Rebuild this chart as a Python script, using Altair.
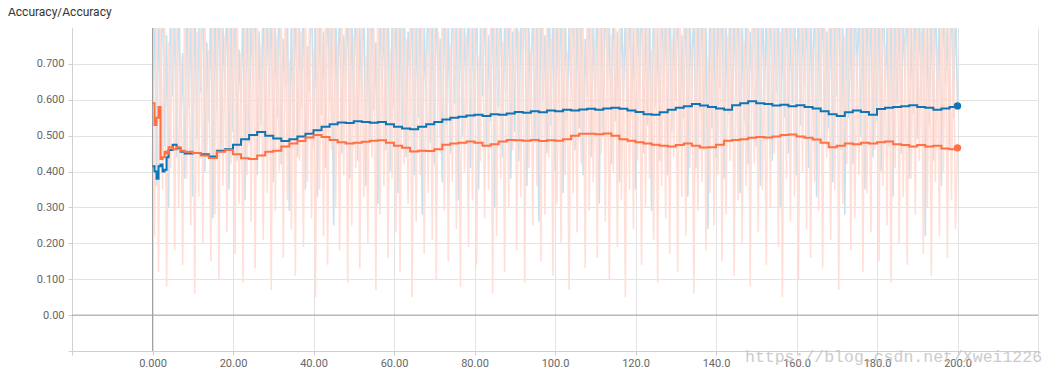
import altair as alt
import pandas as pd

# ---- data ----
raw_x = [i * 0.5 for i in range(0, 401)]

blue_raw = [
    0.42, 0.95, 0.36, 0.88, 0.55, 0.99, 0.47, 0.78, 0.30, 0.92, 0.61, 0.84, 0.44, 0.97, 0.52, 0.73, 0.38, 0.90, 0.58, 0.86,
    0.33, 0.94, 0.49, 0.81, 0.62, 0.98, 0.40, 0.76, 0.54, 0.91, 0.27, 0.87, 0.57, 0.96, 0.45, 0.80, 0.63, 0.93, 0.35, 0.85,
    0.51, 0.99, 0.43, 0.74, 0.59, 0.89, 0.32, 0.95, 0.48, 0.83, 0.66, 0.97, 0.39, 0.79, 0.53, 0.92, 0.46, 0.88, 0.60, 0.94,
    0.37, 0.82, 0.55, 0.98, 0.42, 0.77, 0.64, 0.90, 0.29, 0.86, 0.50, 0.96, 0.44, 0.81, 0.58, 0.93, 0.35, 0.75, 0.62, 0.99,
    0.47, 0.85, 0.33, 0.91, 0.56, 0.79, 0.41, 0.97, 0.60, 0.84, 0.25, 0.89, 0.52, 0.95, 0.45, 0.78, 0.65, 0.92, 0.38, 0.87,
    0.54, 0.98, 0.43, 0.80, 0.61, 0.94, 0.36, 0.83, 0.49, 0.96, 0.57, 0.76, 0.31, 0.90, 0.63, 0.85, 0.46, 0.99, 0.40, 0.82,
    0.58, 0.93, 0.34, 0.88, 0.52, 0.97, 0.44, 0.79, 0.66, 0.91, 0.39, 0.84, 0.55, 0.95, 0.28, 0.81, 0.60, 0.98, 0.48, 0.86,
    0.42, 0.92, 0.63, 0.77, 0.37, 0.96, 0.53, 0.83, 0.45, 0.99, 0.59, 0.87, 0.32, 0.94, 0.50, 0.80, 0.64, 0.90, 0.41, 0.85,
    0.56, 0.97, 0.35, 0.82, 0.61, 0.93, 0.47, 0.78, 0.54, 0.98, 0.30, 0.89, 0.58, 0.95, 0.44, 0.84, 0.62, 0.91, 0.38, 0.79,
    0.51, 0.96, 0.43, 0.87, 0.65, 0.99, 0.36, 0.81, 0.57, 0.92, 0.48, 0.85, 0.26, 0.94, 0.60, 0.78, 0.45, 0.97, 0.53, 0.88,
    0.40, 0.83, 0.59, 0.95, 0.34, 0.90, 0.55, 0.80, 0.63, 0.98, 0.46, 0.86, 0.52, 0.93, 0.39, 0.77, 0.61, 0.96, 0.44, 0.84,
    0.57, 0.99, 0.31, 0.88, 0.50, 0.94, 0.66, 0.82, 0.42, 0.97, 0.54, 0.79, 0.37, 0.91, 0.60, 0.86, 0.48, 0.95, 0.56, 0.81,
    0.35, 0.92, 0.62, 0.98, 0.45, 0.84, 0.53, 0.89, 0.29, 0.96, 0.58, 0.80, 0.43, 0.93, 0.64, 0.87, 0.39, 0.99, 0.51, 0.83,
    0.60, 0.94, 0.47, 0.78, 0.55, 0.97, 0.33, 0.85, 0.62, 0.91, 0.41, 0.88, 0.57, 0.95, 0.46, 0.82, 0.24, 0.98, 0.52, 0.86,
    0.44, 0.90, 0.63, 0.96, 0.38, 0.81, 0.56, 0.93, 0.49, 0.87, 0.61, 0.99, 0.34, 0.84, 0.54, 0.92, 0.42, 0.79, 0.65, 0.97,
    0.47, 0.85, 0.36, 0.94, 0.58, 0.88, 0.50, 0.98, 0.43, 0.80, 0.62, 0.91, 0.30, 0.86, 0.55, 0.96, 0.45, 0.83, 0.59, 0.93,
    0.39, 0.97, 0.53, 0.82, 0.64, 0.90, 0.41, 0.87, 0.57, 0.99, 0.33, 0.84, 0.60, 0.95, 0.48, 0.79, 0.52, 0.92, 0.37, 0.88,
    0.61, 0.98, 0.46, 0.81, 0.28, 0.94, 0.55, 0.86, 0.42, 0.96, 0.63, 0.89, 0.50, 0.83, 0.35, 0.97, 0.58, 0.91, 0.44, 0.85,
    0.54, 0.93, 0.40, 0.99, 0.62, 0.80, 0.47, 0.95, 0.33, 0.87, 0.59, 0.92, 0.45, 0.84, 0.66, 0.98, 0.38, 0.82, 0.56, 0.94,
    0.49, 0.88, 0.60, 0.96, 0.22, 0.83, 0.53, 0.91, 0.43, 0.97, 0.58, 0.86, 0.36, 0.93, 0.64, 0.81, 0.47, 0.99, 0.55, 0.89,
    0.58,
]

orange_raw = [
    0.60, 0.22, 0.97, 0.12, 0.84, 0.35, 0.93, 0.08, 0.76, 0.41, 0.99, 0.18, 0.88, 0.30, 0.72, 0.14, 0.95, 0.38, 0.81, 0.25,
    0.91, 0.06, 0.79, 0.33, 0.98, 0.20, 0.86, 0.44, 0.74, 0.15, 0.94, 0.28, 0.83, 0.10, 0.97, 0.36, 0.78, 0.23, 0.90, 0.42,
    0.85, 0.17, 0.99, 0.31, 0.73, 0.09, 0.92, 0.39, 0.80, 0.26, 0.96, 0.13, 0.87, 0.45, 0.75, 0.21, 0.93, 0.34, 0.82, 0.07,
    0.98, 0.29, 0.77, 0.40, 0.89, 0.16, 0.95, 0.32, 0.71, 0.24, 0.84, 0.11, 0.97, 0.43, 0.79, 0.19, 0.91, 0.37, 0.86, 0.27,
    0.74, 0.05, 0.94, 0.35, 0.88, 0.22, 0.99, 0.14, 0.81, 0.46, 0.92, 0.30, 0.76, 0.18, 0.96, 0.39, 0.83, 0.09, 0.90, 0.25,
    0.78, 0.41, 0.97, 0.13, 0.85, 0.33, 0.72, 0.20, 0.93, 0.44, 0.87, 0.07, 0.99, 0.28, 0.80, 0.36, 0.95, 0.16, 0.74, 0.38,
    0.91, 0.23, 0.84, 0.12, 0.98, 0.42, 0.77, 0.31, 0.89, 0.05, 0.94, 0.26, 0.82, 0.39, 0.96, 0.17, 0.73, 0.34, 0.88, 0.21,
    0.99, 0.10, 0.79, 0.45, 0.92, 0.29, 0.86, 0.15, 0.75, 0.37, 0.97, 0.24, 0.83, 0.08, 0.90, 0.40, 0.78, 0.19, 0.95, 0.32,
    0.87, 0.14, 0.72, 0.43, 0.98, 0.27, 0.81, 0.35, 0.93, 0.06, 0.85, 0.22, 0.96, 0.38, 0.76, 0.12, 0.91, 0.30, 0.84, 0.46,
    0.97, 0.18, 0.79, 0.33, 0.89, 0.09, 0.94, 0.41, 0.74, 0.25, 0.99, 0.36, 0.82, 0.15, 0.92, 0.28, 0.86, 0.44, 0.77, 0.11,
    0.95, 0.31, 0.83, 0.20, 0.98, 0.39, 0.73, 0.07, 0.90, 0.34, 0.85, 0.23, 0.96, 0.42, 0.80, 0.13, 0.93, 0.29, 0.88, 0.37,
    0.76, 0.16, 0.99, 0.45, 0.84, 0.26, 0.91, 0.10, 0.78, 0.40, 0.97, 0.19, 0.87, 0.32, 0.72, 0.05, 0.94, 0.35, 0.82, 0.24,
    0.92, 0.43, 0.79, 0.14, 0.96, 0.30, 0.86, 0.38, 0.74, 0.21, 0.99, 0.09, 0.89, 0.36, 0.81, 0.27, 0.95, 0.17, 0.77, 0.44,
    0.88, 0.12, 0.97, 0.33, 0.83, 0.22, 0.93, 0.41, 0.75, 0.06, 0.90, 0.29, 0.85, 0.37, 0.98, 0.18, 0.72, 0.34, 0.94, 0.25,
    0.80, 0.39, 0.96, 0.15, 0.87, 0.28, 0.78, 0.43, 0.99, 0.11, 0.84, 0.32, 0.92, 0.20, 0.76, 0.36, 0.97, 0.08, 0.89, 0.42,
    0.83, 0.23, 0.94, 0.35, 0.73, 0.14, 0.98, 0.30, 0.86, 0.45, 0.91, 0.19, 0.79, 0.05, 0.95, 0.38, 0.82, 0.26, 0.99, 0.33,
    0.77, 0.10, 0.90, 0.40, 0.85, 0.24, 0.96, 0.16, 0.74, 0.37, 0.93, 0.29, 0.88, 0.13, 0.97, 0.44, 0.81, 0.21, 0.92, 0.35,
    0.99, 0.07, 0.84, 0.31, 0.78, 0.42, 0.95, 0.18, 0.87, 0.27, 0.73, 0.39, 0.98, 0.12, 0.89, 0.34, 0.80, 0.23, 0.94, 0.46,
    0.86, 0.15, 0.97, 0.36, 0.75, 0.25, 0.91, 0.09, 0.83, 0.41, 0.99, 0.20, 0.88, 0.33, 0.76, 0.14, 0.95, 0.38, 0.82, 0.28,
    0.93, 0.43, 0.79, 0.17, 0.96, 0.30, 0.85, 0.11, 0.90, 0.37, 0.74, 0.22, 0.98, 0.40, 0.87, 0.16, 0.92, 0.32, 0.81, 0.24,
    0.47,
]

smooth_x = [0, 0.5, 1, 1.5, 2, 2.5, 3, 3.5, 4, 5, 6, 7, 8] + list(range(10, 201, 2))

blue_smooth = [
    0.415, 0.40, 0.38, 0.415, 0.42, 0.40, 0.405, 0.44, 0.46, 0.475, 0.465, 0.455, 0.45,
    0.452, 0.448, 0.442, 0.458, 0.462, 0.475, 0.49, 0.502, 0.51, 0.50,
    0.492, 0.485, 0.49, 0.498, 0.505, 0.515, 0.525, 0.532, 0.537, 0.535,
    0.54, 0.538, 0.536, 0.538, 0.532, 0.525, 0.52, 0.518, 0.525, 0.532,
    0.538, 0.545, 0.55, 0.553, 0.556, 0.558, 0.555, 0.56, 0.558, 0.562,
    0.566, 0.564, 0.568, 0.565, 0.57, 0.568, 0.572, 0.57, 0.573, 0.575,
    0.572, 0.576, 0.578, 0.575, 0.57, 0.566, 0.56, 0.558, 0.565, 0.572,
    0.578, 0.582, 0.588, 0.584, 0.58, 0.576, 0.572, 0.585, 0.59, 0.596,
    0.59, 0.588, 0.584, 0.586, 0.582, 0.585, 0.58, 0.576, 0.568, 0.56,
    0.555, 0.565, 0.57, 0.566, 0.558, 0.574, 0.578, 0.58, 0.582, 0.585,
    0.58, 0.578, 0.572, 0.576, 0.58, 0.583,
]

orange_smooth = [
    0.59, 0.53, 0.55, 0.58, 0.435, 0.44, 0.455, 0.45, 0.468, 0.462, 0.468, 0.458, 0.455,
    0.452, 0.445, 0.438, 0.455, 0.46, 0.448, 0.437, 0.435, 0.445, 0.455,
    0.458, 0.47, 0.478, 0.485, 0.495, 0.502, 0.496, 0.488, 0.482, 0.478,
    0.48, 0.483, 0.486, 0.487, 0.48, 0.472, 0.466, 0.456, 0.458, 0.457,
    0.462, 0.475, 0.478, 0.48, 0.484, 0.48, 0.472, 0.476, 0.484, 0.488,
    0.487, 0.486, 0.488, 0.485, 0.487, 0.486, 0.49, 0.50, 0.505, 0.505,
    0.504, 0.506, 0.50, 0.49, 0.486, 0.482, 0.478, 0.475, 0.472, 0.47,
    0.474, 0.478, 0.472, 0.467, 0.468, 0.475, 0.486, 0.488, 0.49, 0.494,
    0.496, 0.495, 0.498, 0.502, 0.503, 0.498, 0.494, 0.489, 0.48, 0.468,
    0.472, 0.478, 0.476, 0.48, 0.478, 0.482, 0.484, 0.476, 0.474, 0.47,
    0.474, 0.47, 0.472, 0.464, 0.462, 0.466,
]

title_text = "Accuracy/Accuracy"
watermark_text = "https://blog.csdn.net/Xwei1226"

x_ticks = [-20, 0, 20, 40, 60, 80, 100, 120, 140, 160, 180, 200, 220]
y_ticks = [-0.1, 0.0, 0.1, 0.2, 0.3, 0.4, 0.5, 0.6, 0.7]

BLUE = "#0f75b5"
ORANGE = "#ff7043"
BLUE_RAW = "#c6e1ef"
ORANGE_RAW = "#ffdcd3"

raw_df = pd.DataFrame({"x": raw_x, "blue": blue_raw, "orange": orange_raw})
sm_df = pd.DataFrame({"x": smooth_x, "blue": blue_smooth, "orange": orange_smooth})
end_df = sm_df.tail(1)

xscale = alt.Scale(domain=[-20, 220], nice=False, zero=False)
yscale = alt.Scale(domain=[-0.1, 0.8], nice=False, zero=False)

xaxis = alt.Axis(
    values=x_ticks, title=None, grid=True, gridColor="#e3e3e3",
    domainColor="#cfcfcf", tickColor="#cfcfcf", tickSize=4,
    labelColor="#666666", labelFontSize=11, labelFont="Roboto", labelPadding=2,
    labelExpr="datum.value < 0 || datum.value > 200 ? '' : (datum.value == 0 ? '0.000' : (datum.value < 100 ? format(datum.value, '.2f') : format(datum.value, '.1f')))",
)
yaxis = alt.Axis(
    values=y_ticks, title=None, grid=True, gridColor="#e3e3e3",
    domainColor="#cfcfcf", tickColor="#cfcfcf", tickSize=4,
    labelColor="#666666", labelFontSize=11, labelFont="Roboto", labelPadding=4,
    labelExpr="datum.value < -0.05 ? '' : (abs(datum.value) < 0.001 ? '0.00' : format(datum.value, '.3f'))",
)

base_raw = alt.Chart(raw_df)
raw_blue = base_raw.mark_line(clip=True, strokeWidth=1.6, color=BLUE_RAW).encode(
    x=alt.X("x:Q", scale=xscale, axis=xaxis),
    y=alt.Y("blue:Q", scale=yscale, axis=yaxis),
)
raw_orange = base_raw.mark_line(clip=True, strokeWidth=1.6, color=ORANGE_RAW, opacity=0.9).encode(
    x=alt.X("x:Q", scale=xscale),
    y=alt.Y("orange:Q", scale=yscale),
)

zero_df = pd.DataFrame({"v": [0]})
zero_v = alt.Chart(zero_df).mark_rule(color="#a0a0a0", strokeWidth=1).encode(x=alt.X("v:Q", scale=xscale))
zero_h = alt.Chart(zero_df).mark_rule(color="#a0a0a0", strokeWidth=1).encode(y=alt.Y("v:Q", scale=yscale))

base_sm = alt.Chart(sm_df)
sm_blue = base_sm.mark_line(strokeWidth=2, color=BLUE, interpolate="step-after").encode(
    x=alt.X("x:Q", scale=xscale), y=alt.Y("blue:Q", scale=yscale)
)
sm_orange = base_sm.mark_line(strokeWidth=2, color=ORANGE, interpolate="step-after").encode(
    x=alt.X("x:Q", scale=xscale), y=alt.Y("orange:Q", scale=yscale)
)
dot_blue = alt.Chart(end_df).mark_circle(size=55, opacity=1, color=BLUE).encode(
    x=alt.X("x:Q", scale=xscale), y=alt.Y("blue:Q", scale=yscale)
)
dot_orange = alt.Chart(end_df).mark_circle(size=55, opacity=1, color=ORANGE).encode(
    x=alt.X("x:Q", scale=xscale), y=alt.Y("orange:Q", scale=yscale)
)

title = alt.Chart(pd.DataFrame({"t": [title_text]})).mark_text(
    align="left", baseline="middle", fontSize=12, font="Roboto", color="#333333"
).encode(x=alt.value(-64), y=alt.value(-16), text="t:N")

watermark = alt.Chart(pd.DataFrame({"t": [watermark_text]})).mark_text(
    align="left", baseline="middle", fontSize=16.5, font="Liberation Mono", color="#c4c4c4", opacity=0.85
).encode(x=alt.value(673), y=alt.value(329), text="t:N")

chart = alt.layer(
    raw_blue, raw_orange, zero_v, zero_h, sm_blue, sm_orange, dot_blue, dot_orange, title, watermark
).properties(
    width=966, height=323,
    autosize=alt.AutoSizeParams(type="none"),
    padding={"left": 64, "top": 20, "right": 10, "bottom": 18},
).configure_view(stroke=None)

chart.save("out.html", embed_options={"renderer": "svg", "actions": False})
